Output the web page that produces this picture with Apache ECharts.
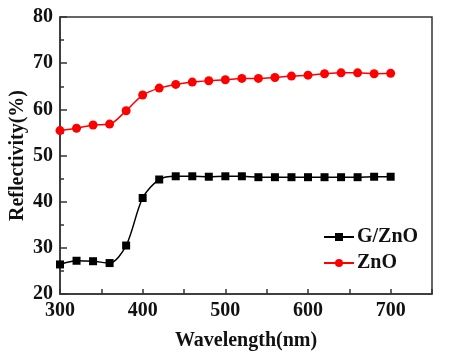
<!DOCTYPE html>
<html>
<head>
<meta charset="utf-8">
<script src="https://cdn.jsdelivr.net/npm/echarts@6/dist/echarts.min.js"></script>
<style>
  html, body { margin: 0; padding: 0; background: #fff; }
  #chart { width: 449px; height: 353px; }
</style>
</head>
<body>
<div id="chart"></div>
<script>
// wavelength (nm)
const wavelength = [300, 320, 340, 360, 380, 400, 420, 440, 460, 480, 500, 520, 540, 560, 580, 600, 620, 640, 660, 680, 700];
// G/ZnO reflectivity (%)
const gZnO = [26.4, 27.2, 27.1, 26.7, 30.5, 40.8, 44.8, 45.5, 45.5, 45.4, 45.5, 45.5, 45.3, 45.3, 45.3, 45.3, 45.3, 45.3, 45.3, 45.4, 45.4];
// ZnO reflectivity (%)
const znO = [55.4, 55.9, 56.6, 56.8, 59.7, 63.1, 64.6, 65.4, 65.9, 66.2, 66.4, 66.7, 66.7, 66.9, 67.2, 67.4, 67.7, 67.9, 67.9, 67.7, 67.8];

const font = "'Liberation Serif', 'Times New Roman', serif";

const chart = echarts.init(document.getElementById('chart'));
chart.setOption({
  animation: false,
  backgroundColor: '#fff',
  grid: {
    left: 60, right: 17, top: 17, bottom: 59,
    outerBoundsMode: 'none',
    show: true, borderColor: '#333', borderWidth: 1.5
  },
  legend: {
    orient: 'vertical',
    left: 318, top: 222,
    itemWidth: 30, itemHeight: 10, itemGap: 6,
    textStyle: { fontFamily: font, fontWeight: 'bold', fontSize: 20, color: '#111', padding: [0, 0, 0, -2] },
    data: ['G/ZnO', 'ZnO']
  },
  xAxis: {
    type: 'value',
    min: 300, max: 750, interval: 50,
    name: 'Wavelength(nm)',
    nameLocation: 'middle', nameGap: 37,
    nameMoveOverlap: false,
    nameTextStyle: { fontFamily: font, fontWeight: 'bold', fontSize: 20, color: '#111' },
    axisLine: { lineStyle: { color: '#333', width: 1.5 } },
    axisTick: { inside: true, length: 5, lineStyle: { color: '#333', width: 1.5 } },
    axisLabel: {
      fontFamily: font, fontWeight: 'bold', fontSize: 20, color: '#111', margin: 7,
      formatter: v => (v % 100 === 0 && v <= 700) ? String(v) : ''
    },
    splitLine: { show: false }
  },
  yAxis: {
    type: 'value',
    min: 20, max: 80, interval: 10,
    name: 'Reflectivity(%)',
    nameLocation: 'middle', nameGap: 32,
    nameMoveOverlap: false,
    nameTextStyle: { fontFamily: font, fontWeight: 'bold', fontSize: 20, color: '#111' },
    axisLine: { show: true, lineStyle: { color: '#333', width: 1.5 } },
    axisTick: { show: true, inside: true, length: 7, lineStyle: { color: '#333', width: 1.5 } },
    minorTick: { show: true, splitNumber: 2, length: 4, lineStyle: { color: '#333', width: 1.5 } },
    axisLabel: {
      fontFamily: font, fontWeight: 'bold', fontSize: 20, color: '#111', margin: 7
    },
    splitLine: { show: false }
  },
  series: [
    {
      name: 'G/ZnO',
      type: 'line',
      smooth: 0.3,
      symbol: 'rect',
      symbolSize: 8,
      itemStyle: { color: '#000' },
      lineStyle: { color: '#000', width: 1.5 },
      data: wavelength.map((x, i) => [x, gZnO[i]])
    },
    {
      name: 'ZnO',
      type: 'line',
      smooth: 0.3,
      symbol: 'circle',
      symbolSize: 9,
      itemStyle: { color: '#ff0000' },
      lineStyle: { color: '#ff0000', width: 1.5 },
      data: wavelength.map((x, i) => [x, znO[i]])
    }
  ]
});
</script>
</body>
</html>
